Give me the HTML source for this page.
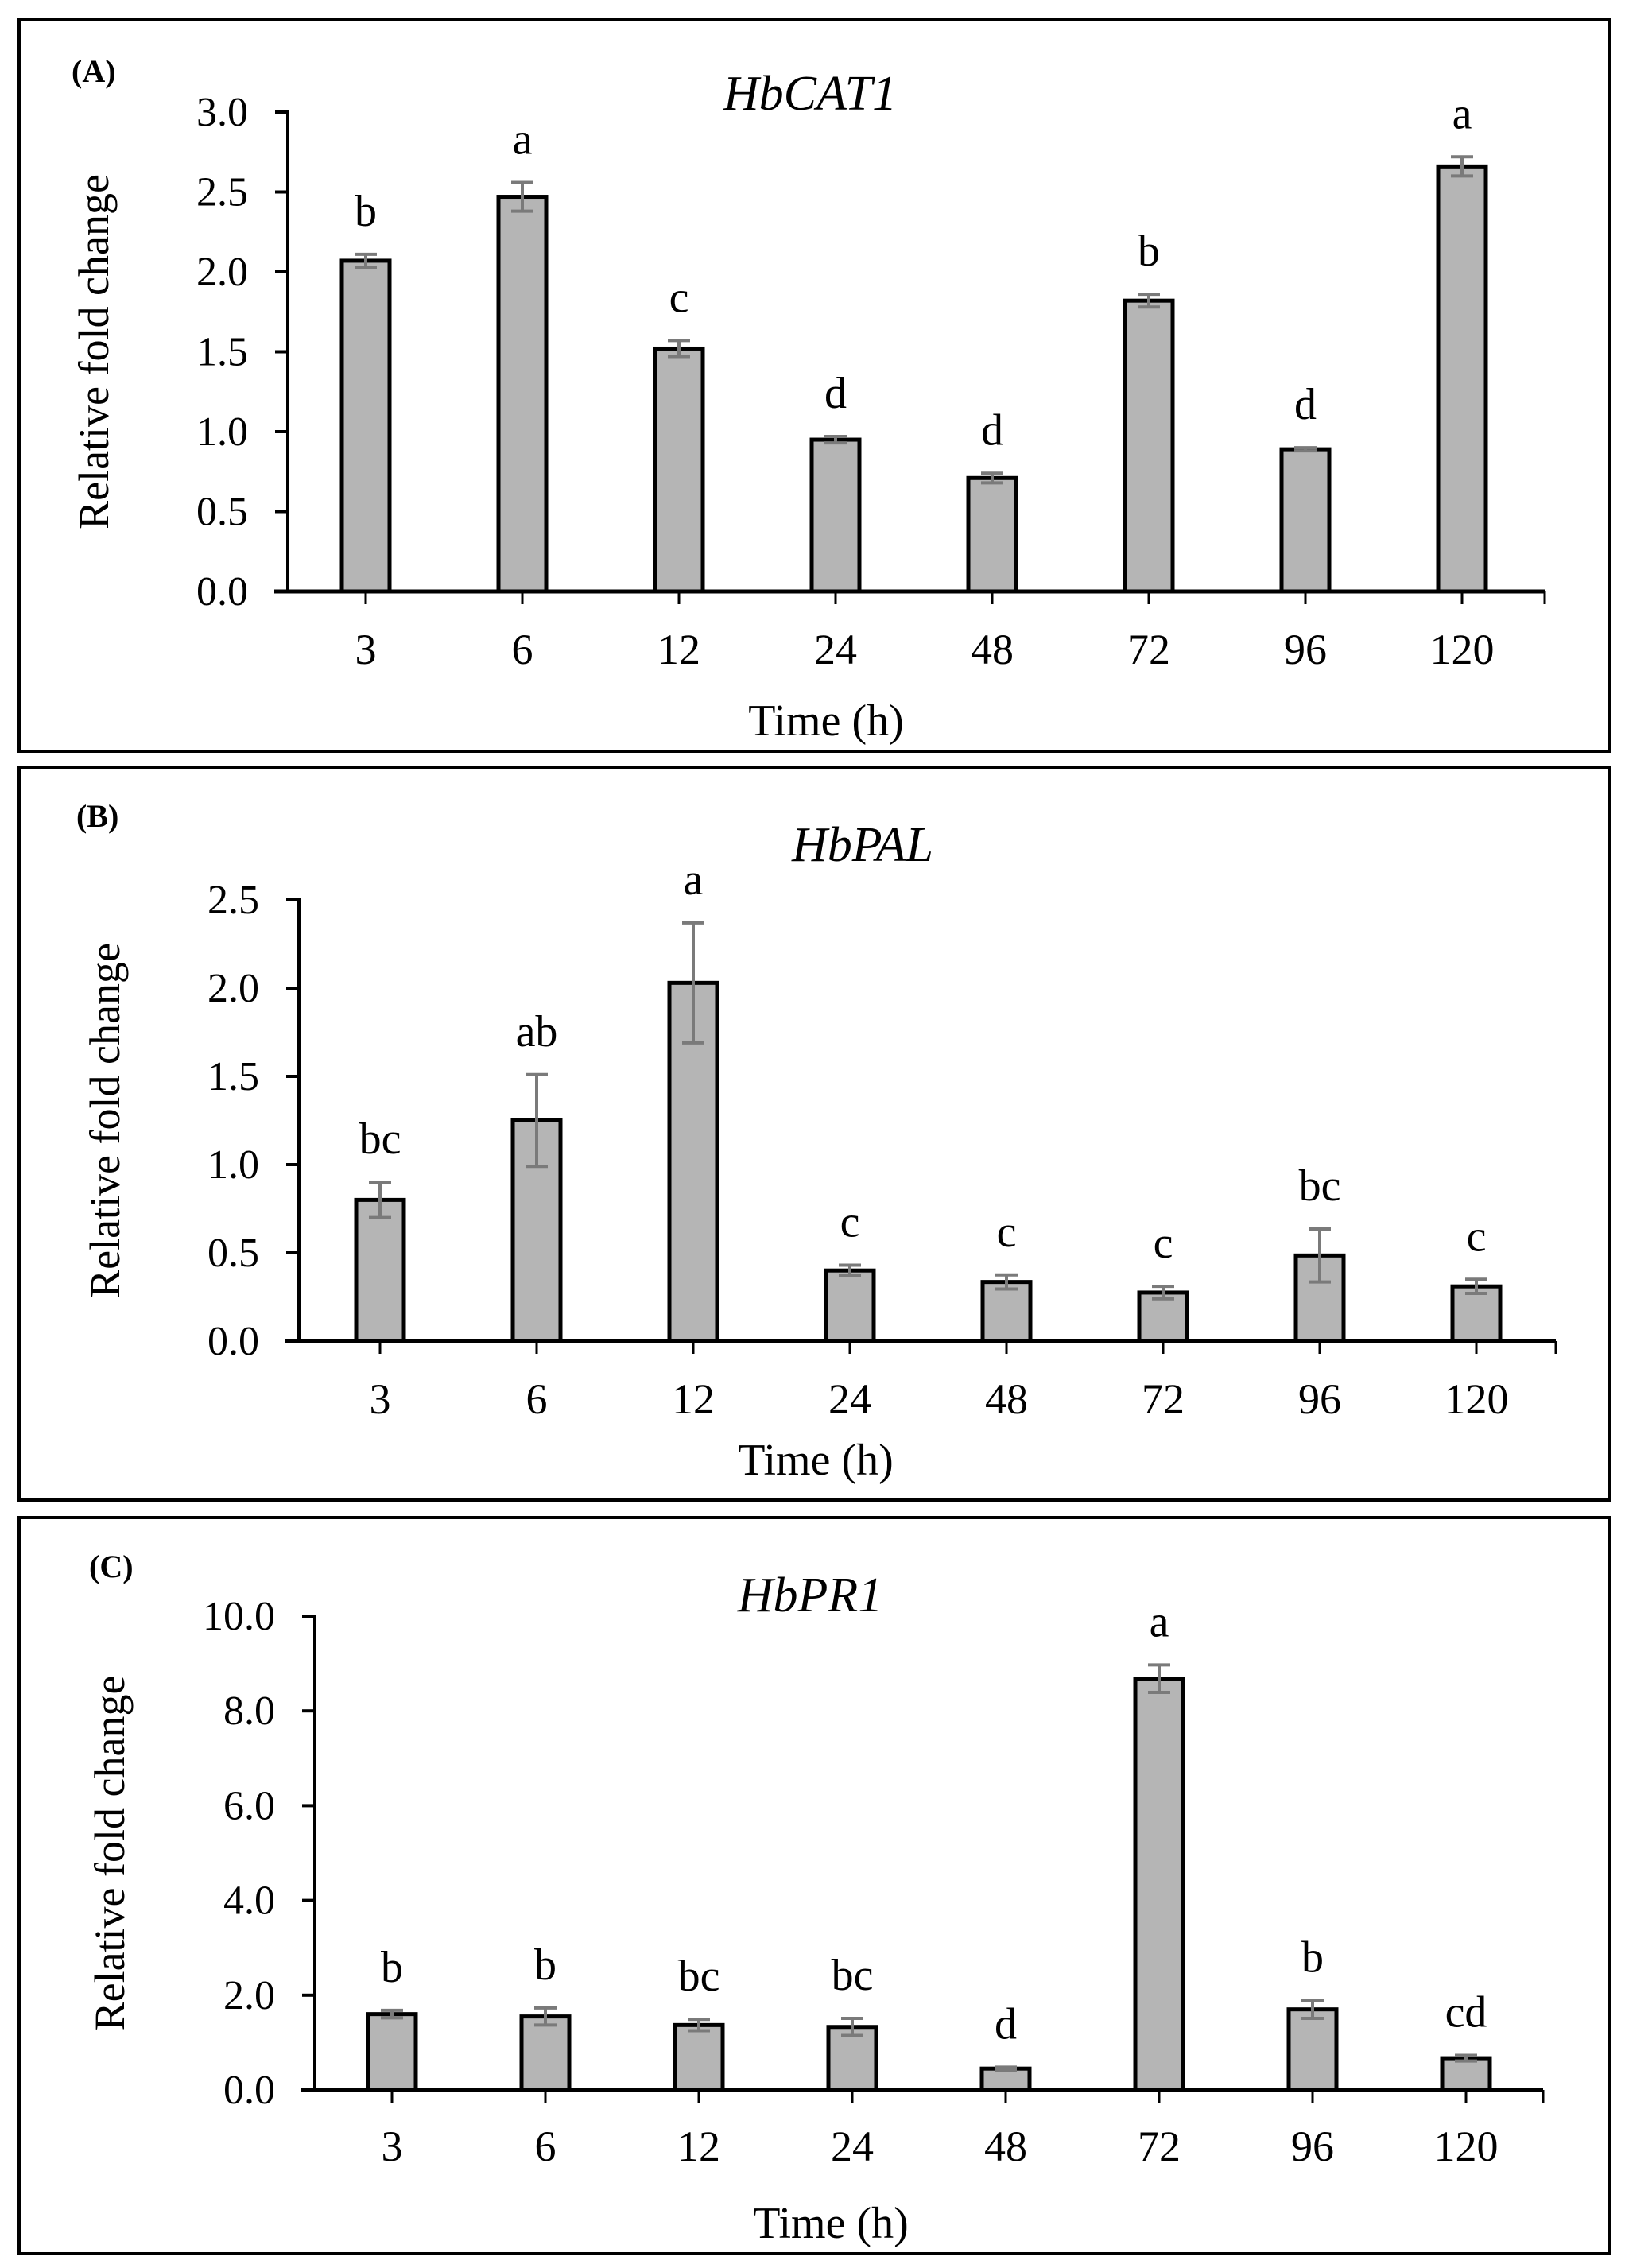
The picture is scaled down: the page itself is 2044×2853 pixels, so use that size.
<!DOCTYPE html>
<html><head><meta charset="utf-8"><style>
html,body{margin:0;padding:0;background:#fff}
svg{display:block}
text{font-family:"Liberation Serif",serif;fill:#000}
</style></head><body>
<svg id="fig" width="2044" height="2853" viewBox="0 0 2044 2853" xmlns="http://www.w3.org/2000/svg"></svg>
<script>
const categories = ["3","6","12","24","48","72","96","120"];
const valuesA = [2.07,2.47,1.52,0.95,0.71,1.82,0.89,2.66];
const errorsA = [0.04,0.09,0.05,0.02,0.03,0.04,0.01,0.06];
const lettersA = ["b","a","c","d","d","b","d","a"];
const ticksA = [0,0.5,1.0,1.5,2.0,2.5,3.0];
const valuesB = [0.80,1.25,2.03,0.40,0.335,0.275,0.485,0.31];
const errorsB = [0.10,0.26,0.34,0.03,0.04,0.035,0.15,0.04];
const lettersB = ["bc","ab","a","c","c","c","bc","c"];
const ticksB = [0,0.5,1.0,1.5,2.0,2.5];
const valuesC = [1.60,1.55,1.37,1.33,0.45,8.68,1.70,0.67];
const errorsC = [0.08,0.18,0.12,0.18,0.03,0.29,0.19,0.06];
const lettersC = ["b","b","bc","bc","d","a","b","cd"];
const ticksC = [0,2,4,6,8,10];

const NS="http://www.w3.org/2000/svg";
const svg=document.getElementById('fig');
function mk(tag,attrs,parent){const e=document.createElementNS(NS,tag);for(const k in attrs)e.setAttribute(k,attrs[k]);(parent||svg).appendChild(e);return e;}

function panel(cfg){
  const g=mk('g',{});
  
  
  const fr=mk('rect',{x:24,y:cfg.top,width:2000,height:cfg.bottom-cfg.top,fill:'none',stroke:'#000','stroke-width':4},g);
  
  
  const yS=v=>cfg.y0-(v/cfg.ymax)*(cfg.y0-cfg.ytop);
  const xS=i=>cfg.x0c+i*cfg.step;
  const lab=mk('text',{x:cfg.labX,y:cfg.labY,'font-size':40,'font-weight':'bold'},g);
  lab.textContent=cfg.label;
  
  
  const t=mk('text',{x:cfg.titleX,y:cfg.titleY,'font-size':62,'font-style':'italic','text-anchor':'middle'},g);
  t.textContent=cfg.title;
  
  
  const yt=mk('text',{x:0,y:0,'font-size':54,'text-anchor':'middle',transform:`translate(${cfg.ytX},${(cfg.y0+cfg.ytop)/2}) rotate(-90)`},g);
  yt.textContent='Relative fold change';
  
  
  const xt=mk('text',{x:cfg.xtX,y:cfg.xtY,'font-size':56,'text-anchor':'middle'},g);
  xt.textContent='Time (h)';
  
  
  cfg.ticks.forEach(v=>{
    const y=yS(v);
    const tk=mk('line',{x1:cfg.ax-16,x2:cfg.ax,y1:y,y2:y,stroke:'#000','stroke-width':4},g);
    
    
    const tl=mk('text',{x:cfg.ax-50,y:y+17,'font-size':52,'text-anchor':'end'},g);
    tl.textContent=v.toFixed(1);
    
    
  });
  cfg.values.forEach((v,i)=>{
    const cx=xS(i), bw=60, top=yS(v);
    const b=mk('rect',{x:cx-bw/2,y:top,width:bw,height:cfg.y0-top,fill:'#b5b5b5',stroke:'#000','stroke-width':5},g);
    
    
    const e=cfg.errors[i], y1=yS(v+e), y2=yS(v-e);
    const eg=mk('g',{stroke:'#7a7a7a','stroke-width':4},g);
    
    
    mk('line',{x1:cx,x2:cx,y1:y1,y2:y2},eg);
    mk('line',{x1:cx-14,x2:cx+14,y1:y1,y2:y1},eg);
    mk('line',{x1:cx-14,x2:cx+14,y1:y2,y2:y2},eg);
    const lt=mk('text',{x:cx,y:y1-36,'font-size':56,'text-anchor':'middle'},g);
    lt.textContent=cfg.letters[i];
    
    
    const xk=mk('line',{x1:cx,x2:cx,y1:cfg.y0,y2:cfg.y0+16,stroke:'#000','stroke-width':3},g);
    
    
    const xl=mk('text',{x:cx,y:cfg.xlY,'font-size':54,'text-anchor':'middle'},g);
    xl.textContent=categories[i];
    
    
  });
  const ya=mk('line',{x1:cfg.ax,x2:cfg.ax,y1:cfg.ytop-2,y2:cfg.y0,stroke:'#000','stroke-width':4},g);
  
  
  const xa=mk('line',{x1:cfg.ax-17,x2:cfg.xend,y1:cfg.y0,y2:cfg.y0,stroke:'#000','stroke-width':5},g);
  
  
  const xe=mk('line',{x1:cfg.xend,x2:cfg.xend,y1:cfg.y0,y2:cfg.y0+16,stroke:'#000','stroke-width':3},g);
  
  
}

panel({id:'a',label:'(A)',title:'HbCAT1',top:25,bottom:945,ax:362,ytop:141,y0:744,ymax:3,
  x0c:460,step:197,xend:1943,values:valuesA,errors:errorsA,letters:lettersA,ticks:ticksA,
  labX:90,labY:103,titleX:1019,titleY:138,ytX:136,xtX:1039,xtY:925,xlY:835});
panel({id:'b',label:'(B)',title:'HbPAL',top:965,bottom:1887,ax:376,ytop:1132,y0:1687,ymax:2.5,
  x0c:478,step:197,xend:1957,values:valuesB,errors:errorsB,letters:lettersB,ticks:ticksB,
  labX:96,labY:1040,titleX:1085,titleY:1083,ytX:150,xtX:1026,xtY:1855,xlY:1778});
panel({id:'c',label:'(C)',title:'HbPR1',top:1909,bottom:2835,ax:396,ytop:2033,y0:2629,ymax:10,
  x0c:493,step:193,xend:1941,values:valuesC,errors:errorsC,letters:lettersC,ticks:ticksC,
  labX:112,labY:1984,titleX:1019,titleY:2027,ytX:156,xtX:1045,xtY:2815,xlY:2718});
</script>
</body></html>
